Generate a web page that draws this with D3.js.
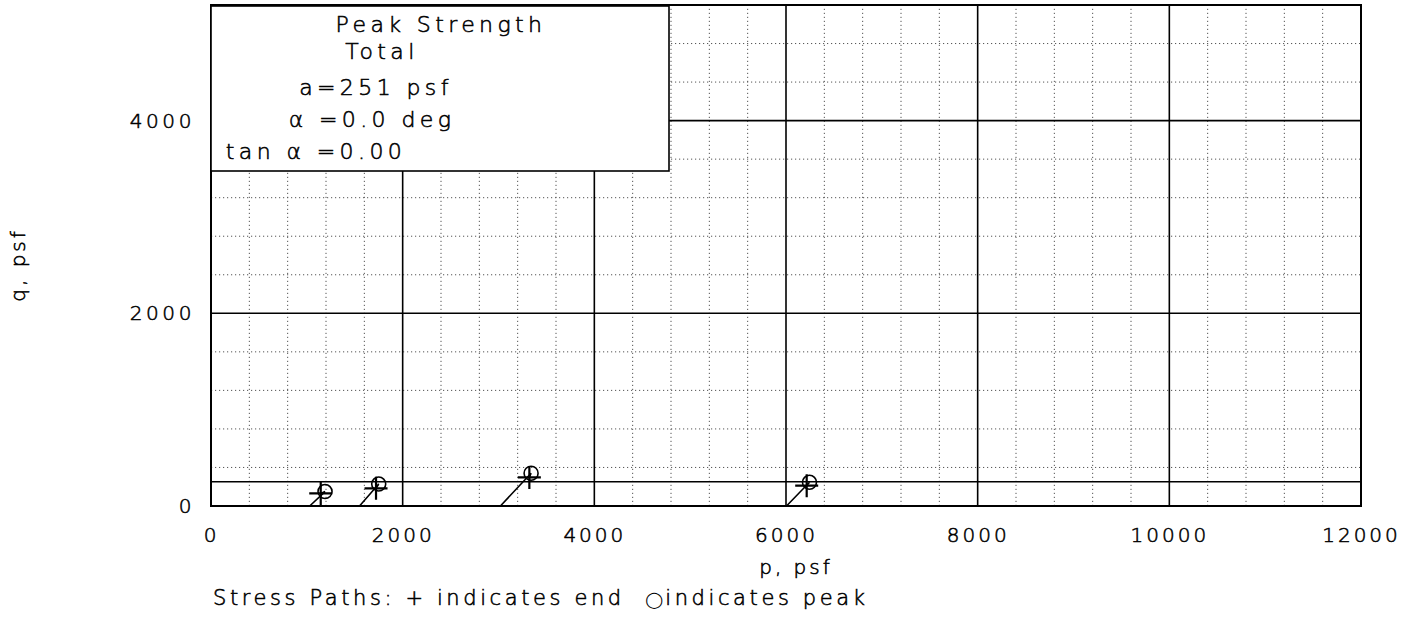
<!DOCTYPE html>
<html>
<head>
<meta charset="utf-8">
<script src="https://cdn.jsdelivr.net/npm/d3@7"></script>
<style>
  html, body { margin: 0; padding: 0; background: #fff; }
  svg { display: block; }
  text { font-family: "DejaVu Sans", sans-serif; font-weight: 200; fill: #000; stroke: #000; stroke-width: 0.55px; }
</style>
</head>
<body>
<svg id="chart" width="1405" height="619"></svg>
<script>
// Stress path data (total stress, p-q space)
const startP = [1030, 1550, 3020, 6005];   // p at start of shear (q = 0)
const peakP  = [1190, 1750, 3340, 6245];
const peakQ  = [150, 228, 340, 246];
const endP   = [1145, 1722, 3322, 6216];
const endQ   = [131, 183, 297, 211];

// Failure envelope parameters
const envA = 251;        // psf
const envAlphaDeg = 0.0; // deg

const xTicks = [0, 2000, 4000, 6000, 8000, 10000, 12000];
const yTicks = [0, 2000, 4000];
const legendLines = ["Peak Strength", "Total", "a=251 psf", "α =0.0 deg", "tan α =0.00"];

const svg = d3.select("#chart");
const x = d3.scaleLinear().domain([0, 12000]).range([211, 1361]);
const y = d3.scaleLinear().domain([0, 5200]).range([506, 5]);

const [x0, x1] = x.range();
const [y0, y1] = y.range();

// minor dotted grid every 400 psf
const minorX = d3.range(400, 12000, 400).filter(v => v % 2000 !== 0);
const minorY = d3.range(400, 5200, 400).filter(v => v % 2000 !== 0);
const grid = svg.append("g");
grid.selectAll(".mx").data(minorX).join("line")
  .attr("x1", d => x(d)).attr("x2", d => x(d)).attr("y1", y0).attr("y2", y1)
  .attr("stroke", "#555").attr("stroke-width", 1).attr("stroke-dasharray", "1.2,2.8");
grid.selectAll(".my").data(minorY).join("line")
  .attr("y1", d => y(d)).attr("y2", d => y(d)).attr("x1", x0).attr("x2", x1)
  .attr("stroke", "#555").attr("stroke-width", 1).attr("stroke-dasharray", "1.2,2.8");

// major solid grid every 2000 psf
grid.selectAll(".Mx").data(xTicks.slice(1, -1)).join("line")
  .attr("x1", d => x(d)).attr("x2", d => x(d)).attr("y1", y0).attr("y2", y1)
  .attr("stroke", "#000").attr("stroke-width", 1.6);
grid.selectAll(".My").data(yTicks.slice(1)).join("line")
  .attr("y1", d => y(d)).attr("y2", d => y(d)).attr("x1", x0).attr("x2", x1)
  .attr("stroke", "#000").attr("stroke-width", 1.6);

// failure envelope q = a + p tan(alpha)
const tanA = Math.tan(envAlphaDeg * Math.PI / 180);
svg.append("line")
  .attr("x1", x(0)).attr("y1", y(envA))
  .attr("x2", x(12000)).attr("y2", y(envA + 12000 * tanA))
  .attr("stroke", "#000").attr("stroke-width", 1.6);

// plot frame
svg.append("rect")
  .attr("x", x0).attr("y", y1).attr("width", x1 - x0).attr("height", y0 - y1)
  .attr("fill", "none").attr("stroke", "#000").attr("stroke-width", 2);

// stress paths
const paths = startP.map((p, i) => ({
  pts: [[p, 0], [peakP[i], peakQ[i]], [endP[i], endQ[i]]],
  peak: [peakP[i], peakQ[i]],
  end: [endP[i], endQ[i]]
}));
const line = d3.line().x(d => x(d[0])).y(d => y(d[1]));
const sp = svg.append("g");
sp.selectAll("path.sp").data(paths).join("path")
  .attr("d", d => line(d.pts))
  .attr("fill", "none").attr("stroke", "#000").attr("stroke-width", 1.6);
sp.selectAll("circle").data(paths).join("circle")
  .attr("cx", d => x(d.peak[0])).attr("cy", d => y(d.peak[1])).attr("r", 7)
  .attr("fill", "none").attr("stroke", "#000").attr("stroke-width", 1.6);
const arm = 11.5;
sp.selectAll("path.end").data(paths).join("path")
  .attr("d", d => {
    const cx = x(d.end[0]), cy = y(d.end[1]);
    return `M${cx - arm},${cy}H${cx + arm}M${cx},${cy - arm}V${cy + arm}`;
  })
  .attr("stroke", "#000").attr("stroke-width", 2.2);

// legend box
const lg = svg.append("g");
lg.append("rect")
  .attr("x", x0).attr("y", y1 + 1).attr("width", 458).attr("height", 165)
  .attr("fill", "#fff").attr("stroke", "#000").attr("stroke-width", 1.6);
const legendPos = [[441, 32], [382, 59], [376, 95], [372, 127], [316, 159]];
lg.selectAll("text").data(legendLines).join("text")
  .attr("x", (d, i) => legendPos[i][0]).attr("y", (d, i) => legendPos[i][1])
  .attr("text-anchor", "middle")
  .attr("font-size", 22).attr("letter-spacing", 4.4)
  .text(d => d);

// axes labels
const xAxis = d3.axisBottom(x).tickValues(xTicks).tickSize(0).tickPadding(0).tickFormat(d3.format("d"));
const gx = svg.append("g").attr("transform", `translate(0,${y0 + 22})`).call(xAxis);
gx.select(".domain").remove();
gx.selectAll("text").attr("font-size", 20).attr("letter-spacing", 3)
  .attr("font-family", "DejaVu Sans").attr("font-weight", 200).attr("fill", "#000");

const yAxis = d3.axisLeft(y).tickValues(yTicks).tickSize(0).tickPadding(0).tickFormat(d3.format("d"));
const gy = svg.append("g").attr("transform", `translate(${x0 - 16},0)`).call(yAxis);
gy.select(".domain").remove();
gy.selectAll("text").attr("font-size", 20).attr("letter-spacing", 3.6)
  .attr("font-family", "DejaVu Sans").attr("font-weight", 200).attr("fill", "#000");

svg.append("text").attr("x", 796).attr("y", 574).attr("text-anchor", "middle")
  .attr("font-size", 20).attr("letter-spacing", 3).text("p, psf");

svg.append("text").attr("transform", "translate(25,265) rotate(-90)").attr("text-anchor", "middle")
  .attr("font-size", 20).attr("letter-spacing", 3).text("q, psf");

// footnote with marker key
const note = svg.append("text").attr("x", 213).attr("y", 605)
  .attr("font-size", 21).attr("letter-spacing", 3.6)
  .attr("xml:space", "preserve").style("white-space", "pre");
note.append("tspan").text("Stress Paths: + indicates end  ");
note.append("tspan").attr("font-weight", 400).attr("stroke-width", 0).attr("letter-spacing", 0)
  .attr("font-size", 16).text("◯");
note.append("tspan").attr("dx", 2).text("indicates peak");
</script>
</body>
</html>
